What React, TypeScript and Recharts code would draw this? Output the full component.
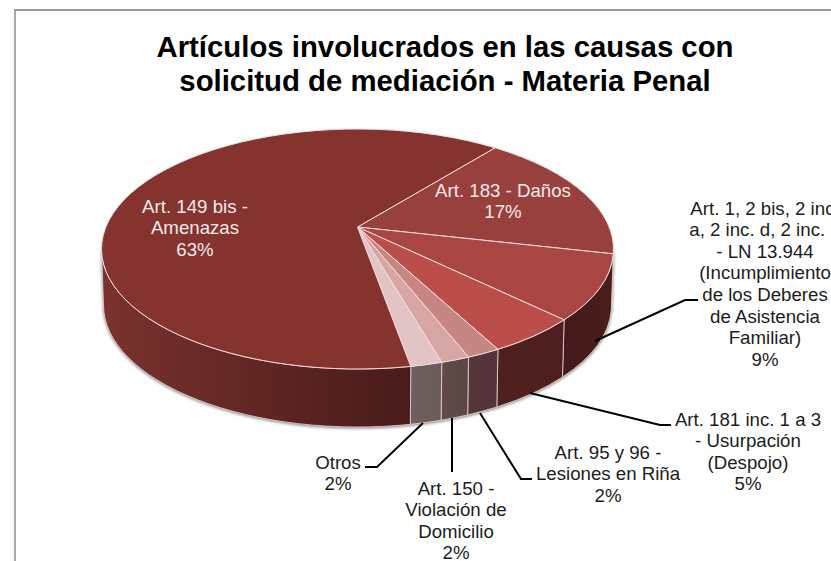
import { Pie, PieChart } from "recharts";

const W = 831;
const H = 561;

// chart values, in clockwise order from the top right
const sliceNames = [
  "Art. 183 - Daños",
  "Art. 1, 2 bis, 2 inc",
  "Art. 181 inc. 1 a 3",
  "Art. 95 y 96",
  "Art. 150",
  "Otros",
  "Art. 149 bis",
];
const sliceValues = [16.6, 9.4, 5.7, 2.1, 1.8, 2.0, 62.3];
// percentages as printed on the labels
const slicePercents = [17, 9, 5, 2, 2, 2, 63];

const labelLines = [
  ["Art. 183 - Daños"],
  [
    "Art. 1, 2 bis, 2 inc.",
    "a, 2 inc. d, 2 inc.\u00a0\u00a0\u00a0",
    "- LN 13.944",
    "(Incumplimiento",
    "de los Deberes",
    "de Asistencia",
    "Familiar)",
  ],
  ["Art. 181 inc. 1 a 3", "- Usurpación", "(Despojo)"],
  ["Art. 95 y 96 -", "Lesiones en Riña"],
  ["Art. 150 -", "Violación de", "Domicilio"],
  ["Otros"],
  ["Art. 149 bis -", "Amenazas"],
];

const topColors = ["#98403d", "#a94643", "#bb4e4b", "#c78583", "#d6a5a4", "#e2c4c5", "#84332f"];
const wallFrom = ["#451a1b", "#451a1b", "#4f1f1f", "#55363a", "#604b49", "#6f6060", "#7a322e"];
const wallTo = ["#451a1b", "#4a1c1c", "#4f1f1f", "#54343a", "#5a4643", "#6a5a5a", "#481b1a"];

// label anchor (centre x, centre y of first line) and leader line
const labelSpots = [
  { x: 503, y: 190, color: "#f6e9e9", line: "" },
  { x: 765, y: 208, color: "#1c1c1c", line: "595,341 685,300 698,300" },
  { x: 748, y: 419, color: "#1c1c1c", line: "530,393 660,425 671,425" },
  { x: 608, y: 452, color: "#1c1c1c", line: "480,413 521,479 532,479" },
  { x: 456, y: 488, color: "#1c1c1c", line: "452,418 452,472" },
  { x: 338, y: 462, color: "#1c1c1c", line: "423,423 377,467 365,467" },
  { x: 195, y: 206, color: "#f6e9e9", line: "" },
];

const chartData = sliceNames.map((name, i) => ({ name, value: sliceValues[i], idx: i }));

const FONT = "'Liberation Sans', Arial, sans-serif";
const CX = 357.5;
const CY = 249;
const RADIUS = 256;
const RY = 120;
const APEX_Y = 227;
const BOTTOM_CY = 305;
const BOTTOM_RX = 254;
const BOTTOM_RY = 122;
const START = 57.5;

const rad = (a: number) => (a * Math.PI) / 180;
const pt = (a: number, cx: number, cy: number, rx: number, ry: number) =>
  `${(cx + rx * Math.cos(rad(a))).toFixed(2)} ${(cy - ry * Math.sin(rad(a))).toFixed(2)}`;

function TopFace(props: any) {
  const { cx, cy, outerRadius, startAngle, endAngle, idx } = props;
  const hi = Math.max(startAngle, endAngle);
  const lo = Math.min(startAngle, endAngle);
  const large = hi - lo > 180 ? 1 : 0;
  const apexY = cy + (APEX_Y - CY);
  const d = `M ${cx} ${apexY} L ${pt(hi, cx, cy, outerRadius, RY)} A ${outerRadius} ${RY} 0 ${large} 1 ${pt(lo, cx, cy, outerRadius, RY)} Z`;
  return <path d={d} fill={topColors[idx]} stroke="#f3dcdc" strokeWidth={1} strokeLinejoin="round" />;
}

function Wall(props: any) {
  const { cx, cy, outerRadius, startAngle, endAngle, idx } = props;
  const s = Math.max(startAngle, endAngle);
  const e = Math.min(startAngle, endAngle);
  const hi = Math.min(s, 0);
  const lo = Math.max(e, -180);
  if (hi <= lo) return <g />;
  const by = cy + (BOTTOM_CY - CY);
  const d =
    `M ${pt(hi, cx, cy, outerRadius, RY)} A ${outerRadius} ${RY} 0 0 1 ${pt(lo, cx, cy, outerRadius, RY)} ` +
    `L ${pt(lo, cx, by, BOTTOM_RX, BOTTOM_RY)} A ${BOTTOM_RX} ${BOTTOM_RY} 0 0 0 ${pt(hi, cx, by, BOTTOM_RX, BOTTOM_RY)} Z`;
  const id = `wall-${idx}`;
  return (
    <g>
      <defs>
        <linearGradient id={id} x1="0" y1="0" x2="1" y2="0">
          <stop offset="0%" stopColor={wallFrom[idx]} />
          <stop offset="100%" stopColor={wallTo[idx]} />
        </linearGradient>
      </defs>
      <path d={d} fill={`url(#${id})`} stroke="#e8d8d8" strokeWidth={0.8} strokeLinejoin="round" />
    </g>
  );
}

function SliceLabel(props: any) {
  const i = props.index;
  const spot = labelSpots[i];
  const lines = [...labelLines[i], `${slicePercents[i]}%`];
  return (
    <g>
      {spot.line && <polyline points={spot.line} fill="none" stroke="#000" strokeWidth={2} />}
      <text textAnchor="middle" fontFamily={FONT} fontSize={18.67} fill={spot.color}>
        {lines.map((t, k) => (
          <tspan key={k} x={spot.x} y={spot.y + k * 21.6 + 6.5}>
            {t}
          </tspan>
        ))}
      </text>
    </g>
  );
}

export default function App() {
  return (
    <div style={{ position: "absolute", left: 0, top: 0, width: W, height: H, overflow: "hidden", background: "#fff" }}>
      <style>{`.pie-walls { filter: drop-shadow(0px 1.5px 1.5px rgba(0,0,0,0.5)); }`}</style>
      <div
        style={{
          position: "absolute",
          left: 14,
          top: 9,
          width: W - 14,
          height: H - 9,
          borderTop: "2px solid #999",
          borderLeft: "2px solid #aaa",
        }}
      />
      <div style={{ position: "absolute", left: 0, top: 0 }}>
        <PieChart width={W} height={H} margin={{ top: 0, right: 0, bottom: 0, left: 0 }}>
          <text x={445} y={57} textAnchor="middle" fontFamily={FONT} fontSize={29.33} fontWeight="bold" fill="#000">
            Artículos involucrados en las causas con
          </text>
          <text x={445} y={91} textAnchor="middle" fontFamily={FONT} fontSize={29.33} fontWeight="bold" fill="#000">
            solicitud de mediación - Materia Penal
          </text>
          <Pie
            className="pie-walls"
            data={chartData}
            dataKey="value"
            nameKey="name"
            cx={CX}
            cy={CY}
            outerRadius={RADIUS}
            startAngle={START}
            endAngle={START - 360}
            stroke="none"
            legendType="none"
            isAnimationActive={false}
            shape={Wall}
          />
          <Pie
            data={chartData}
            dataKey="value"
            nameKey="name"
            cx={CX}
            cy={CY}
            outerRadius={RADIUS}
            startAngle={START}
            endAngle={START - 360}
            stroke="none"
            legendType="none"
            isAnimationActive={false}
            shape={TopFace}
            label={SliceLabel}
            labelLine={false}
          />
        </PieChart>
      </div>
    </div>
  );
}
